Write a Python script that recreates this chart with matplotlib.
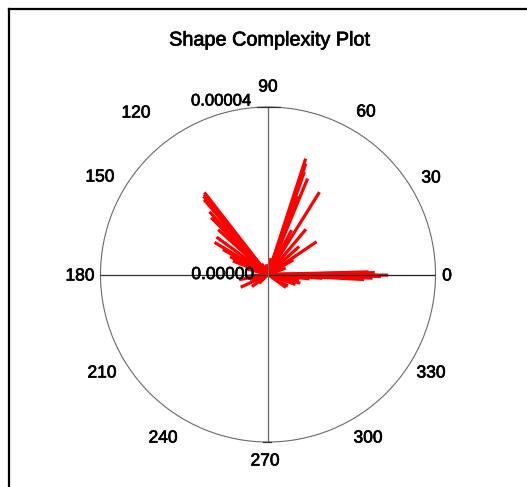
import numpy as np
import matplotlib
matplotlib.use('Agg')
import matplotlib.pyplot as plt
import matplotlib.patheffects as pe
from matplotlib.lines import Line2D

plt.rcParams['font.family'] = ['Liberation Sans', 'DejaVu Sans']

# direction of each vector, degrees
angles = [72, 71.2, 70.5, 67.6, 69, 58, 62, 50, 42, 34, 30, 20, 80, 100,
          127.8, 128.5, 129.5, 130.5, 133, 135, 138, 144, 149, 151, 155, 159, 165, 120,
          -0.3, 1, 1.5, -1, -2, -3, -1.5, 0.5, -4, -6, -10, -20, -30, -36, -15,
          205, 217, 195, 185, 225, 190]
# magnitude of each vector (x 1e-5)
magnitude = [2.91, 2.80, 2.60, 2.48, 2.00, 2.32, 1.20, 1.41, 1.00, 1.40, 0.70, 0.45, 0.40, 0.25,
             2.48, 2.45, 2.42, 2.35, 2.05, 1.92, 1.60, 1.52, 1.49, 1.23, 1.00, 0.90, 0.55, 0.30,
             2.87, 2.55, 2.40, 2.70, 2.50, 2.30, 2.00, 1.80, 1.30, 1.00, 0.75, 0.70, 0.55, 0.53, 0.80,
             0.72, 0.48, 0.45, 0.55, 0.30, 0.70]
rmax = 4e-5
angle_ticks = [0, 30, 60, 90, 120, 150, 180, 210, 240, 270, 300, 330]
radial_labels = ['0.00000', '0.00004']

W, H = 527, 487
# label centres in pixels (from top-left)
label_pos = {0: (447, 276), 30: (431, 178), 60: (366, 112), 90: (268, 87),
             120: (136, 113), 150: (100, 177), 180: (80, 276), 210: (102, 373),
             240: (163, 438), 270: (265, 461), 300: (368, 438), 330: (431, 373)}
heavy = [pe.withStroke(linewidth=0.5, foreground='black')]

fig = plt.figure(figsize=(W / 100, H / 100), dpi=100)
cx, cy, R = 268, H - 274.5, 167.5
ax = fig.add_axes([(cx - R) / W, (cy - R) / H, 2 * R / W, 2 * R / H], projection='polar')
ax.set_ylim(0, rmax)
ax.grid(False)
ax.set_xticks([])
ax.set_yticks([])
ax.spines['polar'].set_color('#6a6a6a')
ax.spines['polar'].set_linewidth(0.8)

# vectors
th = np.deg2rad(angles)
mag = np.array(magnitude) * 1e-5
for t, m in zip(th, mag):
    ax.plot([t, t], [0, m], color='red', lw=2.3, solid_capstyle='butt', zorder=3)

# axis lines through the center (drawn over the vectors)
ax.plot([0, 0], [0, rmax], color='#222222', lw=0.9, zorder=4)
ax.plot([np.pi, np.pi], [0, rmax], color='#333333', lw=0.9, zorder=4)
ax.plot([np.pi / 2, np.pi / 2], [0, rmax], color='#666666', lw=0.9, zorder=4)
ax.plot([3 * np.pi / 2, 3 * np.pi / 2], [0, rmax], color='#666666', lw=0.9, zorder=4)

# angle labels
for a in angle_ticks:
    px, py = label_pos[a]
    fig.text(px / W, 1 - py / H, str(a), ha='center', va='center', fontsize=12.5, path_effects=heavy)

# radial labels and ticks
ax.annotate(radial_labels[1], xy=(np.pi / 2, rmax), xytext=(-17, 6), textcoords='offset pixels',
            ha='right', va='center', fontsize=12, annotation_clip=False, zorder=5, path_effects=heavy)
ax.annotate(radial_labels[0], xy=(0, 0), xytext=(-14, 0), textcoords='offset pixels',
            ha='right', va='center', fontsize=12.5, annotation_clip=False, zorder=5, path_effects=heavy)
fig.add_artist(Line2D([257 / W, 280 / W], [cy / H + R / H, cy / H + R / H], color='#333333', lw=0.9))
fig.add_artist(Line2D([263 / W, 271 / W], [(cy - R) / H, (cy - R) / H], color='#333333', lw=0.9))

fig.text(cx / W + 2 / W, 1 - 40 / H, 'Shape Complexity Plot', ha='center', va='center', fontsize=14.3,
         path_effects=heavy)

# frame
fig.add_artist(Line2D([8.5 / W, 8.5 / W], [0, 1 - 8.5 / H], color='black', lw=1.6))
fig.add_artist(Line2D([8.5 / W, 1], [1 - 8.5 / H, 1 - 8.5 / H], color='black', lw=1.6))

fig.savefig('out.png', dpi=100)
